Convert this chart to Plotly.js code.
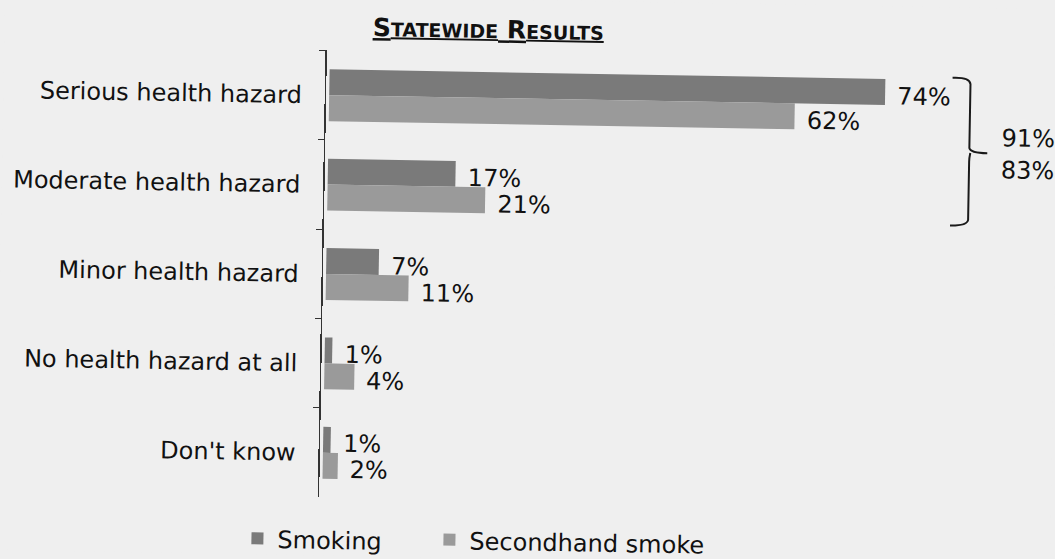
<!DOCTYPE html>
<html>
<head>
<meta charset="utf-8">
<script src="https://cdn.plot.ly/plotly-3.0.1.min.js"></script>
<style>
html,body{margin:0;padding:0;background:#efefef;overflow:hidden;}
#chart{width:1055px;height:559px;transform:rotate(1deg);transform-origin:527.5px 279.5px;}
</style>
</head>
<body>
<div id="chart"></div>
<script>
const categories = ["Serious health hazard", "Moderate health hazard", "Minor health hazard", "No health hazard at all", "Don't know"];
const smoking = [74, 17, 7, 1, 1];
const secondhand = [62, 21, 11, 4, 2];
const seriesNames = ["Smoking", "Secondhand smoke"];
const combinedLabels = ["91%", "83%"];
const titleText = "STATEWIDE RESULTS";

const FONT = "DejaVu Sans, Verdana, sans-serif";
const colors = ["#7a7a7a", "#9a9a9a"];

const traces = [smoking, secondhand].map((vals, i) => ({
  type: "bar",
  orientation: "h",
  name: seriesNames[i],
  legend: i === 0 ? "legend" : "legend2",
  y: categories,
  x: vals,
  marker: {color: colors[i], line: {width: 0}},
  hoverinfo: "skip"
}));

const barShift = 13;
const annotations = [];
[smoking, secondhand].forEach((vals, i) => {
  vals.forEach((v, j) => {
    annotations.push({
      x: v, y: categories[j], xref: "x", yref: "y",
      text: v + "%", showarrow: false,
      xanchor: "left", yanchor: "middle",
      xshift: 10, yshift: (i === 0 ? 1 : -1) * barShift - 4,
      font: {family: FONT, size: 24, color: "#111"}
    });
  });
});

// plot area: x 323..999, y 53.5..501.5
const px = v => (v - 323) / 676;
const py = v => (501.5 - v) / 448;
combinedLabels.forEach((t, k) => {
  annotations.push({
    x: px(1025), y: py(130 + k * 32), xref: "paper", yref: "paper",
    text: t, showarrow: false, xanchor: "center", yanchor: "middle",
    font: {family: FONT, size: 24, color: "#111"}
  });
});

// small-caps title
const smallCaps = titleText.split(" ").map(w =>
  w[0] + "<span style='font-size:19px'>" + w.slice(1) + "</span>").join(" ");

const bracketPath = (() => {
  const X = v => px(v), Y = v => py(v);
  return `M ${X(949)} ${Y(70)} Q ${X(966)} ${Y(69)} ${X(967)} ${Y(76)} L ${X(967)} ${Y(140)} Q ${X(968)} ${Y(145)} ${X(985)} ${Y(145)} ` +
         `M ${X(968)} ${Y(145)} Q ${X(967)} ${Y(150)} ${X(967)} ${Y(154)} L ${X(967)} ${Y(212)} Q ${X(966)} ${Y(218)} ${X(949)} ${Y(218)}`;
})();

const legendFont = {family: FONT, size: 24, color: "#111"};
const layout = {
  width: 1055, height: 559,
  paper_bgcolor: "#efefef", plot_bgcolor: "rgba(0,0,0,0)",
  margin: {l: 323, r: 56, t: 53.5, b: 57.5, autoexpand: false},
  barmode: "group", bargap: 0.42, bargroupgap: 0,
  title: {
    text: "<b><u>" + smallCaps + "</u></b>",
    x: 484 / 1055, xref: "container", xanchor: "center",
    y: 1 - 30 / 559, yref: "container", yanchor: "middle",
    font: {family: FONT, size: 25, color: "#111"}
  },
  xaxis: {range: [-0.4, 89.6], visible: false, fixedrange: true},
  yaxis: {
    type: "category", autorange: "reversed",
    showline: true, linecolor: "#333", linewidth: 1.5, layer: "above traces",
    ticks: "outside", tickson: "boundaries", ticklen: 6, tickcolor: "#333",
    ticklabelstandoff: 18,
    showgrid: false, zeroline: false,
    tickfont: {family: FONT, size: 24, color: "#111"}
  },
  showlegend: true,
  legend: {
    orientation: "h", x: px(242), y: py(544), xanchor: "left", yanchor: "middle",
    xref: "paper", yref: "paper", font: legendFont,
    bgcolor: "rgba(0,0,0,0)", itemwidth: 30
  },
  legend2: {
    orientation: "h", x: px(434), y: py(542), xanchor: "left", yanchor: "middle",
    xref: "paper", yref: "paper", font: legendFont,
    bgcolor: "rgba(0,0,0,0)", itemwidth: 30
  },
  annotations: annotations,
  shapes: [{type: "path", xref: "paper", yref: "paper", path: bracketPath,
            line: {color: "#1a1a1a", width: 2}}]
};

Plotly.newPlot("chart", traces, layout, {staticPlot: true, displayModeBar: false});
</script>
</body>
</html>
